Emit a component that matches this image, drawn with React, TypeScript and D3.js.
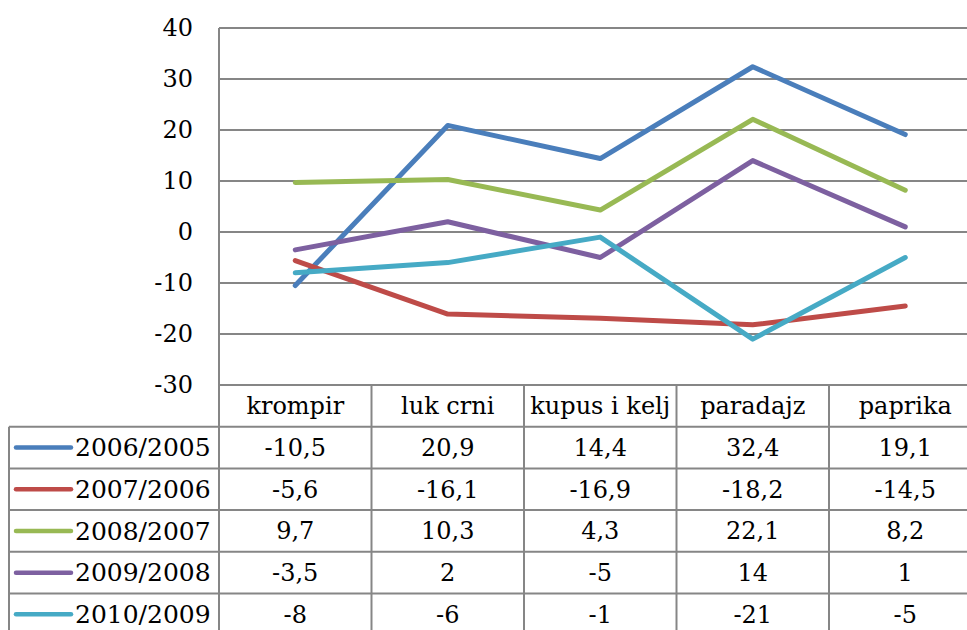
import * as d3 from "d3";
import React from "react";

const categories = ["krompir", "luk crni", "kupus i kelj", "paradajz", "paprika"];
const seriesNames = ["2006/2005", "2007/2006", "2008/2007", "2009/2008", "2010/2009"];
const s2006 = [-10.5, 20.9, 14.4, 32.4, 19.1];
const s2007 = [-5.6, -16.1, -16.9, -18.2, -14.5];
const s2008 = [9.7, 10.3, 4.3, 22.1, 8.2];
const s2009 = [-3.5, 2, -5, 14, 1];
const s2010 = [-8, -6, -1, -21, -5];
const yTicks = [40, 30, 20, 10, 0, -10, -20, -30];
const colors = ["#4A7EBB", "#BE4B48", "#98B954", "#7D60A0", "#46AAC5"];

const series = [s2006, s2007, s2008, s2009, s2010];

const W = 967;
const H = 630;
const plotLeft = 219;
const plotRight = 981.5;
const plotTop = 28;
const plotBottom = 385;
const rowH = 41.7;
const tableLeft = 9;
const font = "'DejaVu Serif', serif";
const grid = "#868686";

const fmt = (v: number) => String(v).replace(".", ",");

export default function App() {
  const x = d3.scaleBand<string>().domain(categories).range([plotLeft, plotRight]);
  const y = d3.scaleLinear().domain([-30, 40]).range([plotBottom, plotTop]);
  const line = d3
    .line<number>()
    .x((_, i) => (x(categories[i]) as number) + x.bandwidth() / 2)
    .y((d) => y(d));

  const headerBottom = plotBottom + rowH;
  const rowTop = (i: number) => headerBottom + i * rowH;
  const tableBottom = rowTop(series.length);

  return (
    <div>
      <style>{`body{margin:0}`}</style>
      <svg width={W} height={H} style={{ display: "block", background: "#fff" }}>
        {/* gridlines */}
        {yTicks.map((t) => (
          <line key={t} x1={plotLeft} x2={plotRight} y1={y(t)} y2={y(t)} stroke={grid} strokeWidth={2} />
        ))}
        {yTicks.map((t) => (
          <text key={"l" + t} x={193} y={y(t)} dy="0.35em" textAnchor="end" fontFamily={font} fontSize={24} fill="#000">
            {t}
          </text>
        ))}
        {/* table */}
        {categories.map((c, i) => {
          const x0 = x(c) as number;
          return (
            <g key={c}>
              <line x1={x0} x2={x0} y1={i === 0 ? plotTop : plotBottom} y2={tableBottom} stroke={grid} strokeWidth={2} />
              <text x={x0 + x.bandwidth() / 2} y={plotBottom + rowH / 2} dy="0.35em" textAnchor="middle" fontFamily={font} fontSize={24}>
                {c}
              </text>
            </g>
          );
        })}
        <line x1={plotRight} x2={plotRight} y1={plotBottom} y2={tableBottom} stroke={grid} strokeWidth={2} />
        <line x1={tableLeft} x2={tableLeft} y1={headerBottom} y2={tableBottom} stroke={grid} strokeWidth={2} />
        {seriesNames.map((n, i) => (
          <line key={"r" + n} x1={tableLeft} x2={plotRight} y1={rowTop(i)} y2={rowTop(i)} stroke={grid} strokeWidth={2} />
        ))}
        <line x1={tableLeft} x2={plotRight} y1={tableBottom} y2={tableBottom} stroke={grid} strokeWidth={2} />
        {series.map((s, i) => {
          const cy = rowTop(i) + rowH / 2;
          return (
            <g key={"t" + i}>
              <line x1={16} x2={71} y1={cy} y2={cy} stroke={colors[i]} strokeWidth={4.5} strokeLinecap="round" />
              <text x={75} y={cy} dy="0.35em" fontFamily={font} fontSize={25}>
                {seriesNames[i]}
              </text>
              {s.map((v, j) => (
                <text
                  key={j}
                  x={(x(categories[j]) as number) + x.bandwidth() / 2}
                  y={cy}
                  dy="0.35em"
                  textAnchor="middle"
                  fontFamily={font}
                  fontSize={24}
                >
                  {fmt(v)}
                </text>
              ))}
            </g>
          );
        })}
        {/* lines */}
        {series.map((s, i) => (
          <path
            key={"p" + i}
            d={line(s) || ""}
            fill="none"
            stroke={colors[i]}
            strokeWidth={5}
            strokeLinecap="round"
            strokeLinejoin="round"
          />
        ))}
      </svg>
    </div>
  );
}
